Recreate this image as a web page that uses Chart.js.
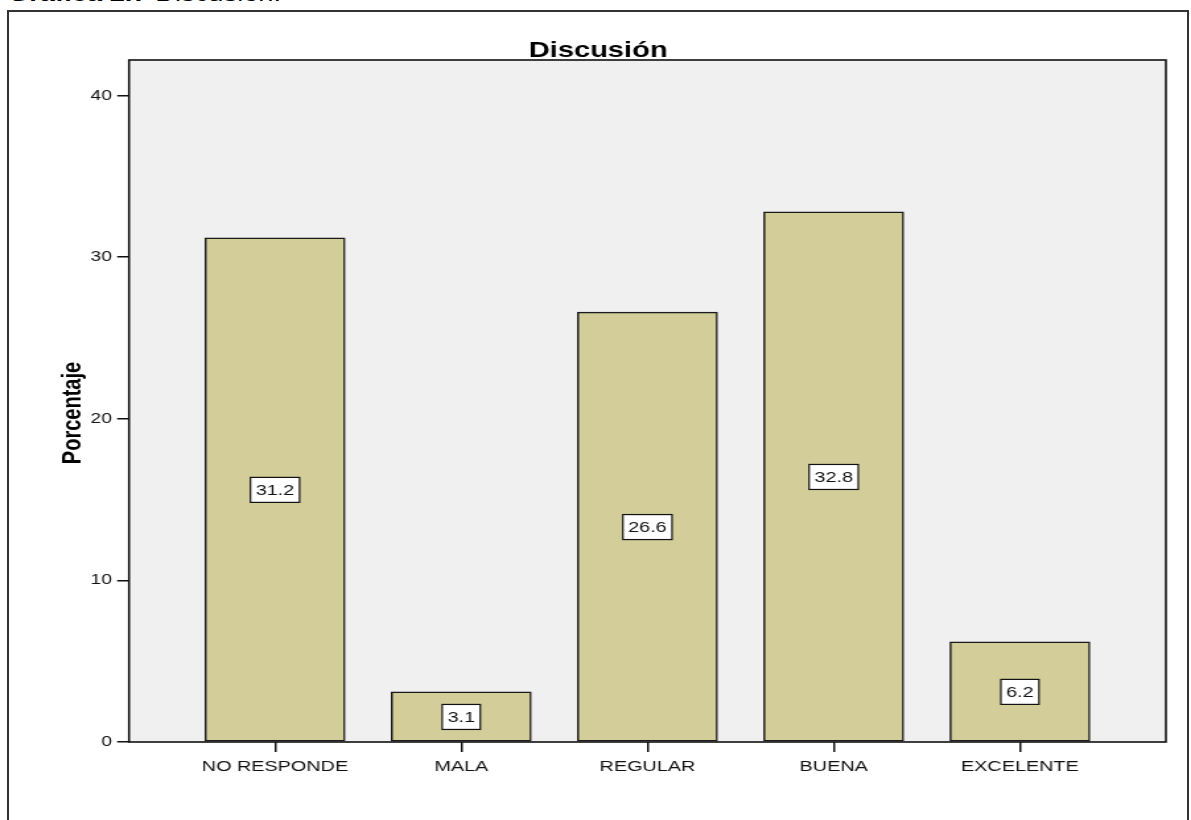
<!DOCTYPE html>
<html>
<head>
<meta charset="utf-8">
<script src="https://cdn.jsdelivr.net/npm/chart.js@4/dist/chart.umd.min.js"></script>
<style>
  body { margin: 0; background: #fff; overflow: hidden; }
  #page { position: relative; width: 1191px; height: 820px; overflow: hidden; }
  #caption {
    position: absolute; left: 8px; top: -17px; font: 21px Arial, "Liberation Sans", sans-serif;
    line-height: 21px; white-space: nowrap; transform: scaleX(1.3); transform-origin: left top; color: #000;
  }
  #frame {
    position: absolute; left: 7px; top: 10px; width: 1178px; height: 900px;
    border: 2px solid #333;
  }
  #myChart { position: absolute; left: 0; top: 0; width: 1191px; height: 820px; }
</style>
</head>
<body>
<div id="page">
  <div id="caption"><b>Gráfica 2.7</b> Discusión.</div>
  <div id="frame"></div>
  <canvas id="myChart" width="902" height="820" style="width:1191px;height:820px"></canvas>
</div>
<script>
// datos de la grafica
const categories = ['NO RESPONDE', 'MALA', 'REGULAR', 'BUENA', 'EXCELENTE'];
const porcentajes = [31.2, 3.1, 26.6, 32.8, 6.2];
const yTicks = [0, 10, 20, 30, 40];
const chartTitle = 'Discusión';
const yTitle = 'Porcentaje';

const FONT = 'Arial, "Liberation Sans", sans-serif';

// fondo gris, marco, etiquetas y titulos
const plotFrame = {
  id: 'plotFrame',
  beforeDatasetsDraw: function (chart) {
    const a = chart.chartArea, ctx = chart.ctx;
    ctx.save();
    ctx.fillStyle = '#f0f0f0';
    ctx.fillRect(a.left, a.top, a.right - a.left, a.bottom - a.top);
    ctx.restore();
  },
  afterDatasetsDraw: function (chart) {
    const a = chart.chartArea, ctx = chart.ctx;
    const y = chart.scales.y;
    ctx.save();
    // etiquetas con el valor en medio de cada barra
    ctx.font = '15px ' + FONT;
    ctx.textAlign = 'center';
    ctx.textBaseline = 'middle';
    chart.getDatasetMeta(0).data.forEach(function (bar, i) {
      const v = porcentajes[i];
      const txt = v.toFixed(1);
      const py = y.getPixelForValue(v / 2);
      const w = ctx.measureText(txt).width + 8;
      const h = 25;
      ctx.fillStyle = '#fff';
      ctx.fillRect(bar.x - w / 2, py - h / 2, w, h);
      ctx.strokeStyle = '#111';
      ctx.lineWidth = 1.2;
      ctx.strokeRect(bar.x - w / 2, py - h / 2, w, h);
      ctx.fillStyle = '#111';
      ctx.fillText(txt, bar.x, py + 1);
    });
    ctx.strokeStyle = '#111';
    ctx.lineWidth = 1.6;
    ctx.strokeRect(a.left, a.top, a.right - a.left, a.bottom - a.top);
    ctx.font = 'bold 22px ' + FONT;
    ctx.fillStyle = '#000';
    ctx.textAlign = 'center';
    ctx.textBaseline = 'alphabetic';
    ctx.fillText(chartTitle, 453, 57);
    // titulo del eje y
    ctx.translate(55.7, 413);
    ctx.rotate(-Math.PI / 2);
    ctx.font = 'bold 20px ' + FONT;
    ctx.textBaseline = 'middle';
    ctx.fillText(yTitle, 0, 0);
    ctx.restore();
  }
};

const ctx = document.getElementById('myChart');
new Chart(ctx, {
  type: 'bar',
  data: {
    datasets: [{
      data: porcentajes.map(function (v, i) { return { x: i, y: v }; }),
      backgroundColor: '#d3ce99',
      borderColor: '#1a1a1a',
      borderWidth: 1.5,
      borderSkipped: false,
      barThickness: 106
    }]
  },
  plugins: [plotFrame],
  options: {
    responsive: false,
    animation: false,
    layout: { padding: { top: 60, right: 19, bottom: 0, left: 0 } },
    plugins: {
      legend: { display: false },
      tooltip: { enabled: false }
    },
    scales: {
      x: {
        type: 'linear',
        offset: false,
        min: -0.784,
        max: 4.784,
        afterBuildTicks: function (scale) {
          scale.ticks = categories.map(function (c, i) { return { value: i }; });
        },
        afterFit: function (scale) { scale.height = 78; },
        border: { display: false },
        grid: { offset: false, drawOnChartArea: false, drawTicks: true, tickLength: 10, color: '#111', lineWidth: 1.5 },
        ticks: {
          autoSkip: false,
          maxRotation: 0,
          padding: 6,
          color: '#111',
          font: { family: FONT, size: 15 },
          callback: function (value) { return categories[value]; }
        }
      },
      y: {
        min: 0,
        max: 42.2,
        afterBuildTicks: function (scale) {
          scale.ticks = yTicks.map(function (t) { return { value: t }; });
        },
        afterFit: function (scale) { scale.width = 97.7; },
        border: { display: false },
        grid: { drawOnChartArea: false, drawTicks: true, tickLength: 9, color: '#111', lineWidth: 1.5 },
        ticks: {
          padding: 4,
          color: '#111',
          font: { family: FONT, size: 14.5 }
        }
      }
    }
  }
});
</script>
</body>
</html>
